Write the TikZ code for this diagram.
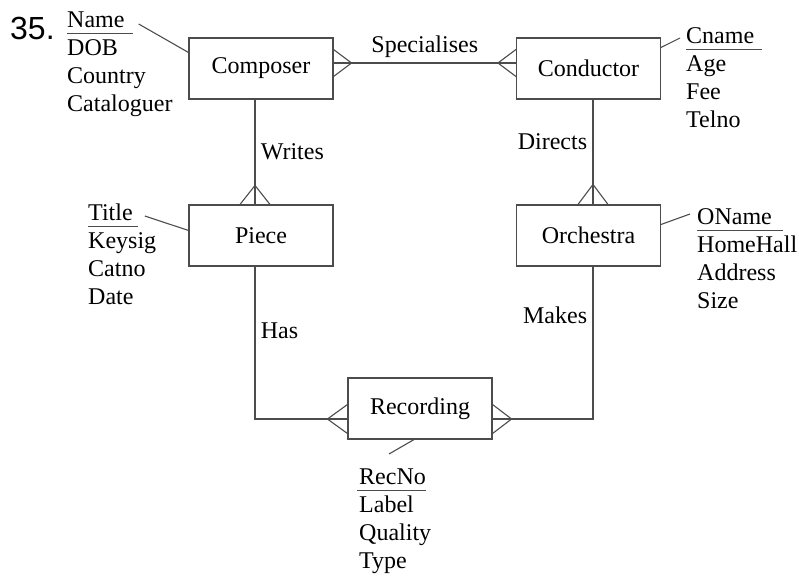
\documentclass[tikz,border=0pt]{standalone}
\usepackage{fontspec}
\setmainfont{Liberation Serif}
\newfontfamily\numfont{Liberation Sans}
\begin{document}
\begin{tikzpicture}[x=1pt, y=-1pt,
    every node/.style={font=\fontsize{24}{28}\selectfont},
    entity/.style={draw=black!70, line width=1.1pt, minimum width=144pt, minimum height=61pt, inner sep=0pt},
    attr/.style={anchor=base west, inner sep=0pt},
    keyattr/.style={anchor=base west, inner xsep=0pt, inner ysep=6pt, text depth=0pt},
    link/.style={draw=black!70, line width=1.1pt}]
    \useasboundingbox (0,0) rectangle (799,576);
    \node[anchor=base west, inner sep=0pt, font=\numfont\fontsize{32}{36}\selectfont] (num) at (10,39) {35.};
    % entities
    \node[entity] (composer) at (261,68.5) {Composer};
    \node[entity] (conductor) at (588.5,68.5) {Conductor};
    \node[entity] (piece) at (261,235.5) {Piece};
    \node[entity] (orchestra) at (588.5,235.5) {Orchestra};
    \node[entity] (recording) at (420,408.5) {Recording};
    % relationships
    \draw[link] ([yshift=5.5pt]composer.east) -- node[above=2pt] {Specialises} ([yshift=5.5pt]conductor.west);
    \draw[link] ([yshift=19pt]composer.east) -- ++(18,13.5) -- ([yshift=-8pt]composer.east);
    \draw[link] ([yshift=19pt]conductor.west) -- ++(-18,13.5) -- ([yshift=-8pt]conductor.west);
    \draw[link] ([xshift=-6pt]composer.south) -- node[right=2pt] {Writes} ([xshift=-6pt]piece.north);
    \draw[link] ([xshift=-21pt]piece.north) -- ++(15,-19) -- ([xshift=9pt]piece.north);
    \draw[link] ([xshift=4.5pt]conductor.south) -- node[pos=0.4, left=2pt] {Directs} ([xshift=4.5pt]orchestra.north);
    \draw[link] ([xshift=-10.5pt]orchestra.north) -- ++(15,-20) -- ([xshift=19.5pt]orchestra.north);
    \draw[link] ([xshift=-6pt]piece.south) |- node[pos=0.21, right=2pt] {Has} ([yshift=-10.5pt]recording.west);
    \draw[link] ([yshift=4pt]recording.west) -- ++(-20,14.5) -- ([yshift=-25pt]recording.west);
    \draw[link] ([xshift=4.5pt]orchestra.south) |- node[pos=0.16, left=2pt] {Makes} ([yshift=-10.5pt]recording.east);
    \draw[link] ([yshift=4pt]recording.east) -- ++(19,14.5) -- ([yshift=-25pt]recording.east);
    % attributes
    \node[keyattr] (name) at (67,27) {Name};
    \draw[link] (name.south west) -- ([xshift=8pt]name.south east);
    \draw[link] ([shift={(14pt,3pt)}]name.base east) -- ([yshift=-15pt]composer.north west);
    \foreach \a [count=\i] in {DOB,Country,Cataloguer}
        \node[attr] (composer-\i) at (67,27+28.3*\i) {\a};
    \node[keyattr] (cname) at (686,43) {Cname};
    \draw[link] (cname.south west) -- ([xshift=8pt]cname.south east);
    \draw[link] ([yshift=-10pt]conductor.north east) -- ([shift={(-6pt,5pt)}]cname.base west);
    \foreach \a [count=\i] in {Age,Fee,Telno}
        \node[attr] (conductor-\i) at (686,43+28.3*\i) {\a};
    \node[keyattr] (title) at (88,220) {Title};
    \draw[link] (title.south west) -- ([xshift=5pt]title.south east);
    \draw[link] ([shift={(12pt,4pt)}]title.base east) -- ([yshift=-26pt]piece.north west);
    \foreach \a [count=\i] in {Keysig,Catno,Date}
        \node[attr] (piece-\i) at (88,220+28.3*\i) {\a};
    \node[keyattr] (oname) at (697,224) {OName};
    \draw[link] (oname.south west) -- ([xshift=11pt]oname.south east);
    \draw[link] ([yshift=-20pt]orchestra.north east) -- ([shift={(-7pt,10pt)}]oname.base west);
    \foreach \a [count=\i] in {HomeHall,Address,Size}
        \node[attr] (orchestra-\i) at (697,224+28.3*\i) {\a};
    \node[keyattr] (recno) at (359,484) {RecNo};
    \draw[link] ([xshift=-2pt]recno.south west) -- (recno.south east);
    \draw[link] ([xshift=-6pt]recording.south) -- ([shift={(30pt,30pt)}]recno.base west);
    \foreach \a [count=\i] in {Label,Quality,Type}
        \node[attr] (recording-\i) at (359,484+28.3*\i) {\a};
\end{tikzpicture}
\end{document}
